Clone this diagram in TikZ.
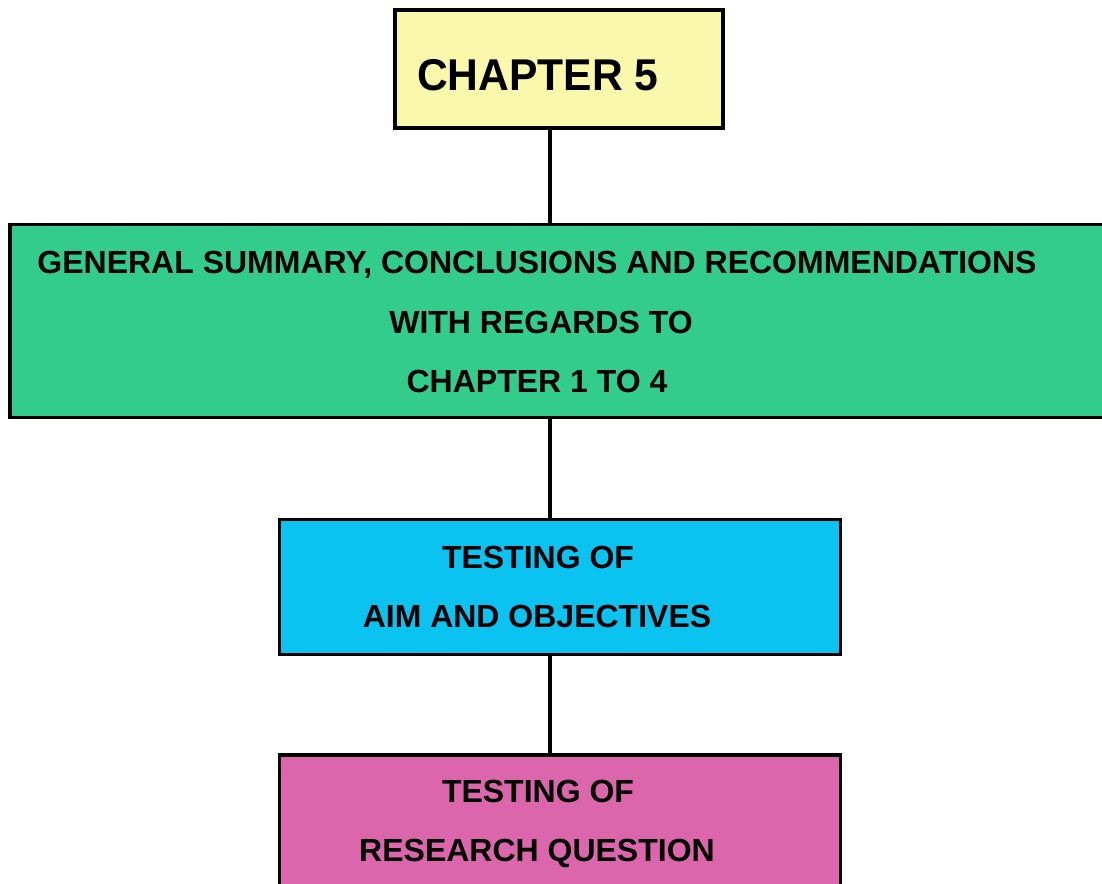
\documentclass[tikz,border=0pt]{standalone}
\usepackage{fontspec}
\setmainfont{Liberation Sans}
\definecolor{boxyellow}{RGB}{250,248,170}
\definecolor{boxgreen}{RGB}{50,205,140}
\definecolor{boxcyan}{RGB}{10,195,240}
\definecolor{boxpink}{RGB}{220,102,172}
\begin{document}
\begin{tikzpicture}[x=1pt,y=-1pt,
  box/.style={draw=black,line width=3.8pt,inner sep=0pt,outer sep=0pt,rectangle},
  txt/.style={anchor=base,inner sep=0pt,font=\bfseries\fontsize{32}{36}\selectfont},
  bigtxt/.style={anchor=base west,inner sep=0pt,font=\bfseries\fontsize{44.5}{50}\selectfont},
  conn/.style={draw=black,line width=3.8pt}]
\useasboundingbox (0,0) rectangle (1102,883);
\clip (0,0) rectangle (1102,883);
\fill[white] (0,0) rectangle (1102,883);
% boxes
\node[box,fill=boxyellow,minimum width=328pt,minimum height=118pt] (yellow) at (559,69) {};
\node[box,fill=boxgreen,minimum width=1120pt,minimum height=193pt] (green) at (570,321) {};
\node[box,fill=boxcyan,minimum width=561pt,minimum height=135pt] (cyan) at (560,587) {};
\node[box,fill=boxpink,minimum width=561pt,minimum height=200pt] (pink) at (560,855) {};
% connector axis
\coordinate (axis) at (550,0);
\draw[conn] (yellow.south -| axis) -- (green.north -| axis);
\draw[conn] (green.south -| axis) -- (cyan.north -| axis);
\draw[conn] (cyan.south -| axis) -- (pink.north -| axis);
% texts
\node[bigtxt] (t0) at (417,90) {\scalebox{0.957}[1]{CHAPTER 5}};
\node[txt] (t1) at (537,273) {GENERAL SUMMARY, CONCLUSIONS AND RECOMMENDATIONS};
\node[txt] (t2) at (541,333) {WITH REGARDS TO};
\node[txt] (t3) at (537,392) {CHAPTER 1 TO 4};
\node[txt] (t4) at (538,568) {TESTING OF};
\node[txt] (t5) at (537,627) {AIM AND OBJECTIVES};
\node[txt] (t6) at (538,802) {TESTING OF};
\node[txt] (t7) at (537,861) {RESEARCH QUESTION};
\end{tikzpicture}
\end{document}
